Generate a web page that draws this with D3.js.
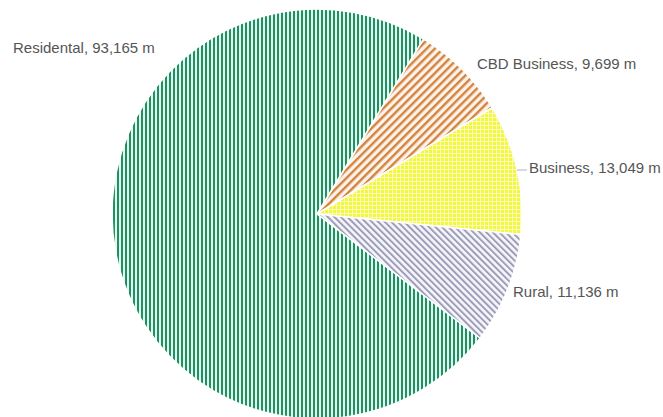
<!DOCTYPE html>
<html>
<head>
<meta charset="utf-8">
<script src="https://cdn.jsdelivr.net/npm/d3@7"></script>
<style>
  html, body { margin: 0; padding: 0; background: #fff; }
  svg { display: block; }
  text { font-family: "Liberation Sans", Arial, sans-serif; }
</style>
</head>
<body>
<svg id="chart" width="663" height="417"></svg>
<script>
// Road length by zone (metres)
const categories = ["CBD Business", "Business", "Rural", "Residental"];
const lengths = [9699, 13049, 11136, 93165];
const unit = "m";

const W = 663, H = 417;
const cx = 317, cy = 214, radius = 205;
const startDeg = 31.3;

const svg = d3.select("#chart");
const defs = svg.append("defs");

// Hatch fills for each slice
function stripePattern(id, color, bg, size, lineW, angle) {
  const p = defs.append("pattern")
    .attr("id", id).attr("patternUnits", "userSpaceOnUse")
    .attr("width", size).attr("height", size)
    .attr("patternTransform", `rotate(${angle})`);
  p.append("rect").attr("width", size).attr("height", size).attr("fill", bg);
  p.append("rect").attr("x", 0).attr("y", 0).attr("width", lineW).attr("height", size).attr("fill", color);
}
stripePattern("pat-cbd", "#d2833f", "#fdf3ea", 5.8, 2.4, 45);
stripePattern("pat-rural", "#9d9dba", "#f7f7fb", 4.6, 2.0, -45);
stripePattern("pat-res", "#1c9165", "#e6f6ee", 4, 2.0, 0);

// Business: yellow with a light grid
const g = defs.append("pattern")
  .attr("id", "pat-bus").attr("patternUnits", "userSpaceOnUse")
  .attr("width", 4).attr("height", 4);
g.append("rect").attr("width", 4).attr("height", 4).attr("fill", "#f2f63c");
g.append("rect").attr("x", 0).attr("y", 3).attr("width", 4).attr("height", 1).attr("fill", "#fafcc0");
g.append("rect").attr("x", 3).attr("y", 0).attr("width", 1).attr("height", 4).attr("fill", "#fafcc0");

const fills = d3.scaleOrdinal()
  .domain(categories)
  .range(["url(#pat-cbd)", "url(#pat-bus)", "url(#pat-rural)", "url(#pat-res)"]);

const rad = d => d * Math.PI / 180;
const pie = d3.pie().sort(null).value(d => d.v)
  .startAngle(rad(startDeg)).endAngle(rad(startDeg) + 2 * Math.PI);
const data = categories.map((c, i) => ({ c, v: lengths[i] }));
const arcs = pie(data);
const arc = d3.arc().innerRadius(0).outerRadius(radius);

const gPie = svg.append("g").attr("transform", `translate(${cx},${cy})`);
gPie.selectAll("path").data(arcs).join("path")
  .attr("d", arc)
  .attr("fill", d => fills(d.data.c))
  .attr("stroke", "#fff").attr("stroke-width", 1.5).attr("stroke-linejoin", "round");

// Data labels (placed per slice)
const fmt = d3.format(",");
const labelLayout = {
  "CBD Business": { x: 477, y: 69 },
  "Business": { x: 529, y: 173, leader: [517, 527, 170] },
  "Rural": { x: 513, y: 297 },
  "Residental": { x: 13, y: 53 }
};
const gLab = svg.append("g");
arcs.forEach(a => {
  const L = labelLayout[a.data.c];
  if (L.leader) {
    gLab.append("line")
      .attr("x1", L.leader[0]).attr("x2", L.leader[1])
      .attr("y1", L.leader[2]).attr("y2", L.leader[2])
      .attr("stroke", "#a9b3c6").attr("stroke-width", 1);
  }
  gLab.append("text")
    .attr("x", L.x).attr("y", L.y)
    .attr("font-size", 15).attr("fill", "#555")
    .text(`${a.data.c}, ${fmt(a.data.v)} ${unit}`);
});
</script>
</body>
</html>
